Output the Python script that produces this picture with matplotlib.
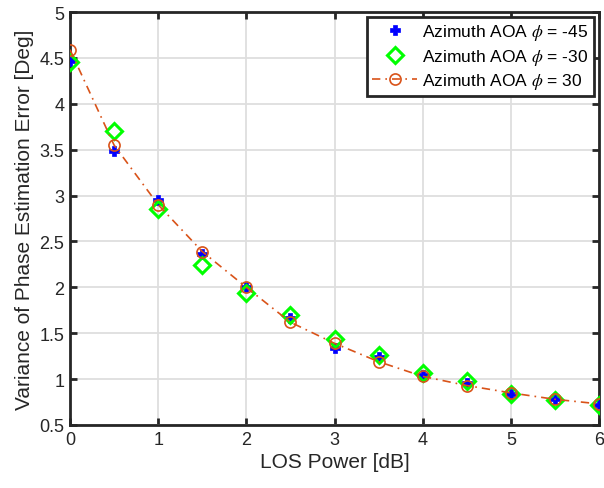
import matplotlib
matplotlib.use("Agg")
import matplotlib.pyplot as plt

plt.rcParams['font.family'] = ['Liberation Sans', 'DejaVu Sans']
plt.rcParams['mathtext.fontset'] = 'stix'

x = [0, 0.5, 1, 1.5, 2, 2.5, 3, 3.5, 4, 4.5, 5, 5.5, 6]
az_m45 = [4.47, 3.49, 2.95, 2.36, 2.00, 1.67, 1.34, 1.24, 1.05, 0.96, 0.84, 0.78, 0.72]
az_m30 = [4.46, 3.70, 2.85, 2.24, 1.94, 1.70, 1.44, 1.26, 1.07, 0.98, 0.84, 0.77, 0.72]
az_p30 = [4.59, 3.55, 2.90, 2.39, 2.00, 1.62, 1.39, 1.19, 1.03, 0.93, 0.85, 0.78, 0.73]

labels = [r'Azimuth AOA $\phi$ = -45', r'Azimuth AOA $\phi$ = -30', r'Azimuth AOA $\phi$ = 30']

fig = plt.figure(figsize=(6.04, 4.89), dpi=100)
ax = fig.add_axes([70/604, 63/489, 529/604, 413/489])

ax.plot(x, az_m45, linestyle='none', marker='P', color='#0000FF', markersize=6.5,
        markeredgewidth=0.5, label=labels[0], zorder=3)
ax.plot(x, az_m30, linestyle='none', marker='D', markerfacecolor='none',
        markeredgecolor='#00FF00', markeredgewidth=2.2, markersize=8, label=labels[1], zorder=4)
ax.plot(x, az_p30, linestyle=(0, (5, 3, 1, 3)), color='#D95319', linewidth=1.2, marker='o',
        markerfacecolor='none', markeredgecolor='#D95319', markersize=8, markeredgewidth=1.2,
        label=labels[2], zorder=5)

ax.set_xlim(0, 6)
ax.set_ylim(0.5, 5)
ax.set_xticks(range(0, 7))
ax.set_yticks([0.5, 1, 1.5, 2, 2.5, 3, 3.5, 4, 4.5, 5])
ax.set_yticklabels(['0.5', '1', '1.5', '2', '2.5', '3', '3.5', '4', '4.5', '5'])
ax.grid(True, color='#DEDEDE', linewidth=1.3)
ax.set_axisbelow(True)
for s in ax.spines.values():
    s.set_linewidth(2)
    s.set_color('#262626')
ax.tick_params(direction='in', top=True, right=True, length=5, width=2,
               labelsize=13, colors='#262626', pad=4)
ax.set_xlabel('LOS Power [dB]', fontsize=15, color='#262626', labelpad=3)
ax.set_ylabel('Variance of Phase Estimation Error [Deg]', fontsize=15, color='#262626', labelpad=4)

leg = ax.legend(loc='upper right', fontsize=12.5, frameon=True, fancybox=False,
                edgecolor='#262626', framealpha=1, borderpad=0.3, labelspacing=0.25,
                handlelength=2.6, handletextpad=0.3, borderaxespad=0.3)
leg.get_frame().set_linewidth(2)

fig.savefig('out.png', dpi=100)
